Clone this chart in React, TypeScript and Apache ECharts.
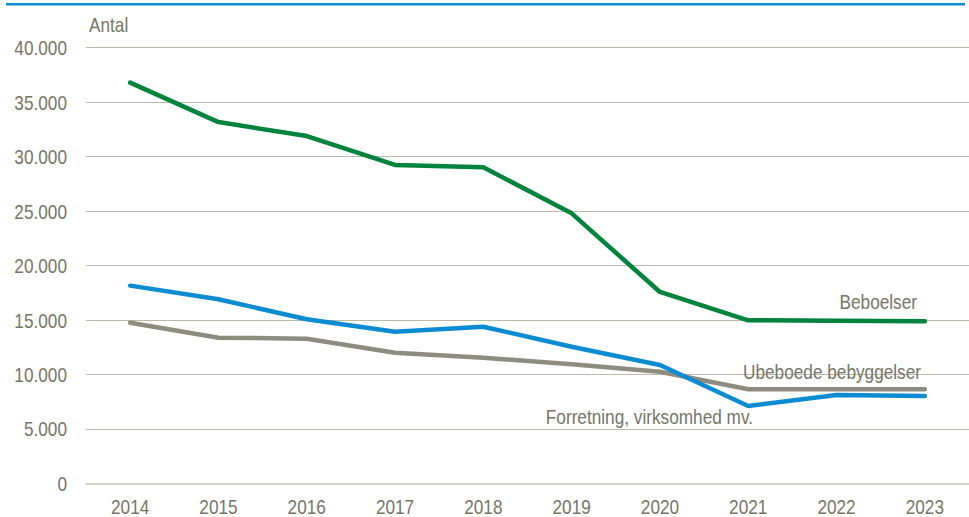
import React, { useEffect, useRef } from "react";
import * as echarts from "echarts";

const years = ["2014", "2015", "2016", "2017", "2018", "2019", "2020", "2021", "2022", "2023"];
const beboelser = [36790, 33170, 31890, 29230, 29020, 24790, 17570, 14970, 14930, 14880];
const forretning = [18150, 16900, 15060, 13920, 14380, 12540, 10860, 7100, 8110, 8020];
const ubeboede = [14750, 13370, 13280, 11990, 11540, 10930, 10250, 8630, 8630, 8630];
const yTicks = [0, 5000, 10000, 15000, 20000, 25000, 30000, 35000, 40000];

const FONT = "'Liberation Sans', Arial, sans-serif";
const TEXT = "#777565";
const SX = 0.82; // narrow-font look

const fmt = (v: number) => String(v).replace(/\B(?=(\d{3})+(?!\d))/g, ".");

const txt = (id: string, text: string, x: number, y: number, align: string, z = 10) => ({
  id,
  type: "text",
  x,
  y,
  scaleX: SX,
  z,
  silent: true,
  style: { text, fill: TEXT, font: `21px ${FONT}`, lineHeight: 17, align, verticalAlign: "middle" },
});

export default function App() {
  const ref = useRef<HTMLDivElement>(null);
  useEffect(() => {
    if (!ref.current) return;
    const chart = echarts.init(ref.current, null, { renderer: "svg" });
    chart.setOption({
      animation: false,
      backgroundColor: "#ffffff",
      grid: { left: 86, top: 47.7, height: 435.6, width: 890, containLabel: false },
      xAxis: {
        type: "category",
        data: years,
        boundaryGap: true,
        axisLine: { show: true, lineStyle: { color: "#D3D2C9", width: 2 } },
        axisTick: { show: false },
        axisLabel: { show: false },
      },
      yAxis: {
        type: "value",
        min: yTicks[0],
        max: yTicks[yTicks.length - 1],
        interval: 5000,
        axisLine: { show: false },
        axisTick: { show: false },
        splitLine: { lineStyle: { color: "#BAB9AA", width: 1.2 } },
        axisLabel: { show: false },
      },
      series: [
        {
          name: "Beboelser",
          type: "line",
          data: beboelser,
          symbol: "none",
          lineStyle: { color: "#00843D", width: 4.5, cap: "round", join: "round" },
          z: 3,
        },
        {
          name: "Ubeboede bebyggelser",
          type: "line",
          data: ubeboede,
          symbol: "none",
          lineStyle: { color: "#8E8C7E", width: 4.5, cap: "round", join: "round" },
          z: 2,
        },
        {
          name: "Forretning, virksomhed mv.",
          type: "line",
          data: forretning,
          symbol: "none",
          lineStyle: { color: "#0A8BD2", width: 4.5, cap: "round", join: "round" },
          z: 4,
        },
      ],
    });

    const graphics: any[] = [
      { id: "topbar", type: "rect", shape: { x: 6, y: 3, width: 959, height: 2.5 }, style: { fill: "#0A8BD2" }, silent: true },
      txt("antal", "Antal", 89, 24.5, "left"),
      txt("lbl-b", "Beboelser", 917, 302, "right"),
      txt("lbl-u", "Ubeboede bebyggelser", 921, 372, "right"),
      txt("lbl-f", "Forretning, virksomhed mv.", 753, 417, "right"),
    ];
    years.forEach((yr, i) => {
      const px = chart.convertToPixel({ xAxisIndex: 0 }, yr) as number;
      graphics.push(txt("x" + i, yr, px, 507, "center"));
    });
    yTicks.forEach((t, i) => {
      const py = chart.convertToPixel({ yAxisIndex: 0 }, t) as number;
      graphics.push(txt("y" + i, fmt(t), 67, py + 0.5, "right"));
    });
    chart.setOption({ graphic: graphics });

    return () => chart.dispose();
  }, []);
  return (
    <div style={{ position: "fixed", left: 0, top: 0, width: 969, height: 517, overflow: "hidden", background: "#fff" }}>
      <div ref={ref} style={{ width: 969, height: 517 }} />
    </div>
  );
}
